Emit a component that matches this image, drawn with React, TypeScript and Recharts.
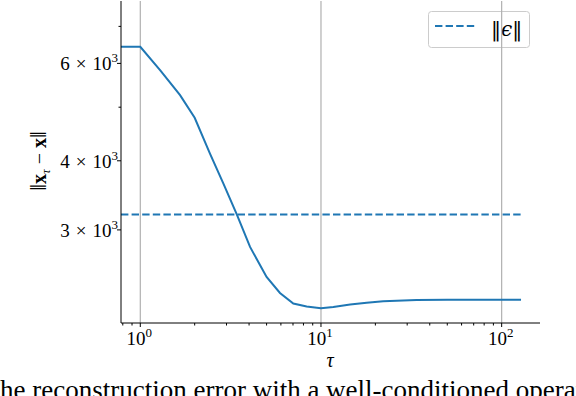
import { LineChart, Line, XAxis, YAxis, ReferenceLine } from 'recharts'

// reconstruction error vs tau
const tau = [0.782, 1, 1.29, 1.66, 2.0, 2.43, 2.88, 3.42, 4.05, 5.0, 5.93, 7.03, 8.33, 10, 11.7, 14.5, 17.9, 22.1, 33.8, 50, 80, 128]
const reconErr = [6430, 6430, 5830, 5256, 4784, 4121, 3641, 3200, 2795, 2466, 2307, 2208, 2181, 2165, 2177, 2199, 2214, 2230, 2240, 2242, 2242, 2242]
const epsNorm = 3200

const xTicks = [0.8, 0.9, 1, 2, 3, 4, 5, 6, 7, 8, 9, 10, 20, 30, 40, 50, 60, 70, 80, 90, 100]
const xMajor = [1, 10, 100]
const yTicks = [3000, 4000, 5000, 6000, 7000]
const yLabels: Record<number, string> = { 3000: '3', 4000: '4', 6000: '6' }

const caption = 'The reconstruction error with a well-conditioned operator.'

const BLUE = '#1f77b4'
const FONT = '"Liberation Serif", "DejaVu Serif", serif'

const data = tau.map((t, i) => ({ tau: t, err: reconErr[i], eps: epsNorm }))

function XTick({ x, y, payload }: any) {
  const v = payload.value
  const major = xMajor.includes(v)
  return (
    <g>
      <line x1={x} x2={x} y1={y} y2={y + (major ? 4 : 2.5)} stroke='#000' strokeWidth={1} />
      {major && (
        <text x={x - 1} y={y + 22} textAnchor='middle' fontSize={19} fill='#000' fontFamily={FONT}>
          10
          <tspan dy={-8} fontSize={13}>
            {Math.round(Math.log10(v))}
          </tspan>
        </text>
      )}
    </g>
  )
}

function YTick({ x, y, payload }: any) {
  const v = payload.value
  const lab = yLabels[v]
  return (
    <g>
      <line x1={x - (lab ? 4 : 2.5)} x2={x} y1={y} y2={y} stroke='#000' strokeWidth={1} />
      {lab && (
        <text x={x - 3} y={y + 7} textAnchor='end' fontSize={19} fill='#000' fontFamily={FONT}>
          {lab}
          <tspan dx={6}>×</tspan>
          <tspan dx={6}>10</tspan>
          <tspan dy={-8} fontSize={13}>
            3
          </tspan>
        </text>
      )}
    </g>
  )
}

export default function App() {
  return (
    <div style={{ position: 'fixed', left: 0, top: 0, width: 576, height: 396, background: '#fff' }}>
      <LineChart width={576} height={396} data={data} margin={{ top: 1, right: 36, bottom: 0, left: 0 }}>
        <XAxis
          dataKey='tau'
          type='number'
          scale='log'
          domain={[0.782, 163]}
          allowDataOverflow
          ticks={xTicks}
          interval={0}
          height={73}
          tickSize={0}
          tickMargin={0}
          tick={<XTick />}
          axisLine={{ stroke: '#000', strokeWidth: 1 }}
        />
        <XAxis xAxisId='top' orientation='top' dataKey='tau' type='number' scale='log' domain={[0.782, 163]} allowDataOverflow height={0} tick={false} tickLine={false} axisLine={{ stroke: '#000', strokeWidth: 1 }} />
        <YAxis
          type='number'
          scale='log'
          domain={[2036, 7780]}
          allowDataOverflow
          ticks={yTicks}
          interval={0}
          width={121}
          tickSize={0}
          tickMargin={0}
          tick={<YTick />}
          axisLine={{ stroke: '#000', strokeWidth: 1 }}
        />
        <YAxis yAxisId='right' orientation='right' type='number' scale='log' domain={[2036, 7780]} allowDataOverflow width={0} tick={false} tickLine={false} axisLine={{ stroke: '#000', strokeWidth: 1 }} />
        {xMajor.map((m) => (
          <ReferenceLine key={m} x={m} stroke='#b0b0b0' strokeWidth={1.2} />
        ))}
        <Line dataKey='eps' stroke={BLUE} strokeWidth={2} strokeDasharray='7.4 3.2' dot={false} isAnimationActive={false} />
        <Line dataKey='err' stroke={BLUE} strokeWidth={2} dot={false} isAnimationActive={false} />
        <text x={46} y={161} transform='rotate(-90, 46, 161)' textAnchor='middle' fontSize={20} fill='#000' fontFamily={FONT}>
          <tspan fontSize={24}>‖</tspan>
          <tspan fontWeight='bold'>x</tspan>
          <tspan dy={4} fontSize={13} fontStyle='italic'>τ</tspan>
          <tspan dy={-4}> − </tspan>
          <tspan fontWeight='bold'>x</tspan>
          <tspan fontSize={24}>‖</tspan>
        </text>
        <text x={330} y={367} textAnchor='middle' fontSize={20} fontStyle='italic' fill='#000' fontFamily={FONT}>
          τ
        </text>
        <text x={-16.5} y={399} fontSize={27} fill='#000' fontFamily={FONT}>
          {caption}
        </text>
        {/* legend */}
        <rect x={428.5} y={11.5} width={101} height={36} rx={3} fill='#fff' fillOpacity={0.8} stroke='#cccccc' strokeWidth={1} />
        <line x1={435} x2={477} y1={26} y2={26} stroke={BLUE} strokeWidth={2} strokeDasharray='7.4 3.2' />
        <text x={491} y={36} fontSize={20} fill='#000' fontFamily='"DejaVu Serif", serif'>
          ‖<tspan fontStyle='italic'>ϵ</tspan>‖
        </text>
      </LineChart>
    </div>
  )
}
